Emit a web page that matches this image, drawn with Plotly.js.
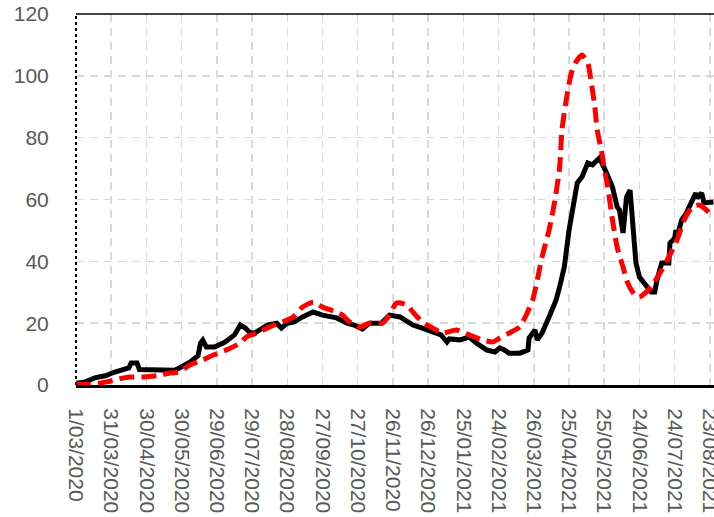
<!DOCTYPE html>
<html>
<head>
<meta charset="utf-8">
<script src="https://cdn.plot.ly/plotly-3.0.1.min.js"></script>
<style>html,body{margin:0;padding:0;background:#fff;}#chart{width:714px;height:517px;}</style>
</head>
<body>
<div id="chart"></div>
<script>
// Black solid series
var blackDates = ["2020-03-01","2020-03-09","2020-03-17","2020-03-26","2020-04-03","2020-04-12","2020-04-15","2020-04-17","2020-04-22","2020-04-24","2020-05-03","2020-05-16","2020-05-24","2020-05-28","2020-06-06","2020-06-13","2020-06-15","2020-06-17","2020-06-20","2020-06-27","2020-07-06","2020-07-14","2020-07-19","2020-07-23","2020-07-27","2020-07-31","2020-08-11","2020-08-19","2020-08-23","2020-08-28","2020-09-03","2020-09-10","2020-09-19","2020-09-27","2020-10-09","2020-10-18","2020-10-24","2020-10-31","2020-11-06","2020-11-16","2020-11-23","2020-12-02","2020-12-13","2020-12-21","2020-12-31","2021-01-06","2021-01-11","2021-01-13","2021-01-22","2021-01-30","2021-02-05","2021-02-14","2021-02-21","2021-02-25","2021-03-01","2021-03-05","2021-03-14","2021-03-21","2021-03-22","2021-03-27","2021-03-29","2021-04-02","2021-04-08","2021-04-14","2021-04-17","2021-04-21","2021-04-25","2021-04-30","2021-05-02","2021-05-06","2021-05-11","2021-05-15","2021-05-21","2021-05-27","2021-06-01","2021-06-05","2021-06-07","2021-06-10","2021-06-13","2021-06-16","2021-06-18","2021-06-21","2021-06-24","2021-06-30","2021-07-04","2021-07-07","2021-07-09","2021-07-13","2021-07-19","2021-07-20","2021-07-24","2021-07-25","2021-07-26","2021-07-30","2021-08-03","2021-08-07","2021-08-11","2021-08-12","2021-08-16","2021-08-18","2021-08-23","2021-08-26"];
var blackValues = [0.6,1,2.3,3,4.2,5.2,5.5,7.1,7.1,5,4.9,4.8,4.8,5.5,7.4,9.5,13.5,14.5,12.3,12.3,13.9,16.2,19.4,18.5,17,16.8,19.4,20,18.4,20,20.4,22,23.6,22.6,21.7,20,19.4,18.1,20,20,22.6,22,19.4,18.4,16.8,16.2,13.9,14.9,14.6,15.5,13.6,11.3,10.7,12,11.3,10.3,10.3,11.3,15.2,17.8,14.6,16.8,22,27.5,31.7,38.2,50.1,60.8,65.3,67.3,71.8,71.2,73.4,68.6,64,57.6,56.6,49.2,60.8,63,53.4,39.5,34.9,32.3,30.1,30.1,34,39.5,39.5,45.9,47.5,50.1,47.9,53.4,55.6,58.9,62.1,60.5,62.1,58.9,58.9,59.2];

// Red dashed series
var redDates = ["2020-03-01","2020-03-13","2020-03-27","2020-04-07","2020-04-16","2020-04-27","2020-05-09","2020-05-20","2020-05-28","2020-06-06","2020-06-17","2020-06-26","2020-07-07","2020-07-19","2020-07-24","2020-08-02","2020-08-13","2020-08-24","2020-09-02","2020-09-10","2020-09-19","2020-09-27","2020-10-09","2020-10-14","2020-10-20","2020-10-29","2020-11-06","2020-11-17","2020-11-23","2020-11-29","2020-12-08","2020-12-13","2020-12-21","2020-12-30","2021-01-07","2021-01-19","2021-01-30","2021-02-10","2021-02-19","2021-02-25","2021-03-05","2021-03-14","2021-03-20","2021-03-25","2021-03-29","2021-04-02","2021-04-08","2021-04-13","2021-04-17","2021-04-19","2021-04-23","2021-04-27","2021-05-01","2021-05-06","2021-05-11","2021-05-14","2021-05-17","2021-05-19","2021-05-23","2021-05-25","2021-05-28","2021-06-01","2021-06-05","2021-06-10","2021-06-14","2021-06-20","2021-06-24","2021-06-30","2021-07-05","2021-07-13","2021-07-19","2021-07-26","2021-08-01","2021-08-08","2021-08-14","2021-08-20","2021-08-26"];
var redValues = [0.3,0.2,1,2,2.6,2.6,3,3.9,4.2,6.5,8.1,9.7,11.3,13.6,15.5,16.8,18.8,20.4,22,25.2,26.8,25.2,23.6,22.6,20.4,18.8,20,20,22.6,26.5,25.9,23.6,20.4,18.4,16.8,17.8,16.2,14.6,13.9,15.2,16.8,18.8,23,27.5,34,41.4,50.1,59.8,70.5,82.5,93.1,100.9,104.5,106.7,104.1,97.7,89.9,82.5,75,70,64,53.4,44.6,38.2,33,29.1,28.5,30.1,32.3,37.2,41.4,46.9,53.4,57.6,58.2,56.6,54.3];

// Axis ticks
var xTick0 = "2020-03-01";
var xTickStepDays = 30;
var yTicks = [0,20,40,60,80,100,120];

var tickFont = {family: "Liberation Sans, Arial, sans-serif", size: 21, color: "#595959"};

var traces = [
  {x: blackDates, y: blackValues, type: "scatter", mode: "lines",
   line: {color: "#000000", width: 5, shape: "linear"}, hoverinfo: "skip"},
  {x: redDates, y: redValues, type: "scatter", mode: "lines",
   line: {color: "#ff0000", width: 5, dash: "15px,7px", shape: "spline", smoothing: 0.6}, hoverinfo: "skip"}
];

var layout = {
  width: 714, height: 517,
  margin: {l: 76, r: 0, t: 14, b: 132},
  paper_bgcolor: "#ffffff", plot_bgcolor: "#ffffff",
  showlegend: false,
  xaxis: {
    type: "date",
    range: ["2020-03-01", "2021-08-26 12:00"],
    tick0: xTick0, dtick: xTickStepDays * 86400000,
    tickformat: "%-d/%m/%Y",
    tickangle: 90,
    tickfont: tickFont,
    ticklabeloverflow: "allow",
    ticks: "outside", ticklen: 16, tickcolor: "rgba(0,0,0,0)",
    showgrid: true, gridcolor: "#d9d9d9", gridwidth: 1.5, griddash: "8px,6px",
    showline: true, linecolor: "#000000", linewidth: 3,
    zeroline: false, automargin: false, fixedrange: true
  },
  yaxis: {
    range: [0, 120],
    tickvals: yTicks,
    tickfont: tickFont,
    ticks: "outside", ticklen: 22, tickcolor: "rgba(0,0,0,0)",
    showgrid: true, gridcolor: "#d9d9d9", gridwidth: 1.5, griddash: "8px,6px",
    showline: false, zeroline: false, automargin: false, fixedrange: true
  },
  shapes: [
    {type: "line", xref: "paper", yref: "paper", x0: 0, x1: 1, y0: 1, y1: 1,
     line: {color: "#000000", width: 1.5}},
    {type: "line", xref: "paper", yref: "paper", x0: 0, x1: 0, y0: 0, y1: 1,
     line: {color: "#000000", width: 2, dash: "dot"}}
  ]
};

Plotly.newPlot("chart", traces, layout, {displayModeBar: false, staticPlot: true});
</script>
</body>
</html>
